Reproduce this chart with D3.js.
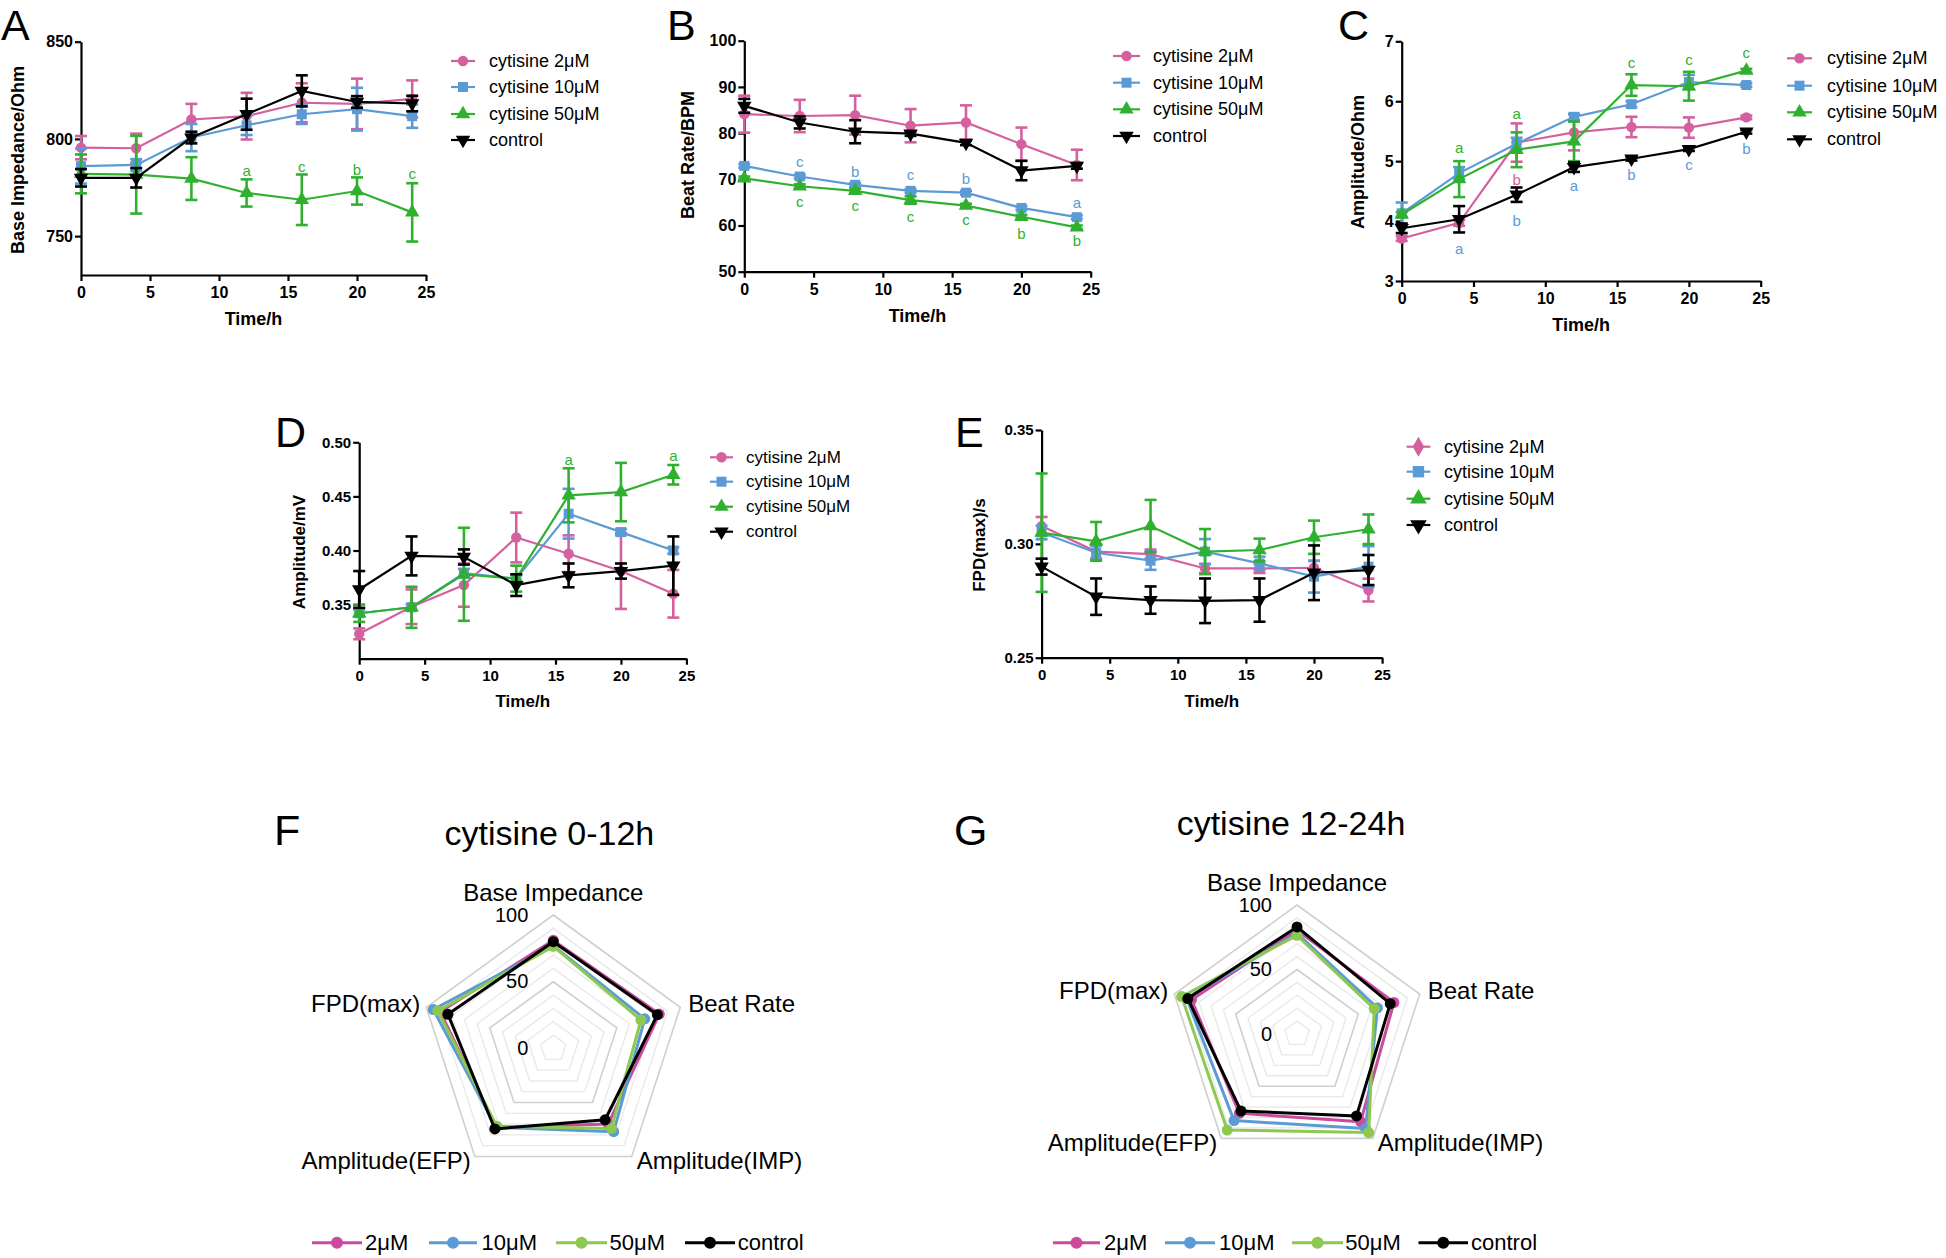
<!DOCTYPE html>
<html><head><meta charset="utf-8">
<script src="https://cdn.jsdelivr.net/npm/d3@7"></script>
<style>
body{margin:0;background:#fff}
svg{display:block}
text{font-family:"Liberation Sans",Arial,Helvetica,sans-serif;fill:#000}
</style>
</head><body>
<svg id="chart" width="1946" height="1258"></svg>
<script>
// ---------------- DATA ----------------
const times = [0, 4, 8, 12, 16, 20, 24];
const seriesNames = ["cytisine 2μM", "cytisine 10μM", "cytisine 50μM", "control"];
const xTicks = [0, 5, 10, 15, 20, 25];

// A: Base Impedance / Ohm
const impedance2 = [795.5, 795.2, 810.0, 811.7, 818.6, 818.0, 820.6];
const impedance2Err = [6, 7.5, 8, 12, 10, 13, 9.5];
const impedance10 = [786.0, 786.6, 800.7, 807.0, 812.7, 815.3, 811.7];
const impedance10Err = [9, 3, 7, 5, 5, 11, 6];
const impedance50 = [782.0, 781.6, 779.6, 772.2, 768.7, 773.2, 762.2];
const impedance50Err = [10, 20, 11, 7, 13, 7, 15];
const impedanceCtrl = [780.0, 780.0, 800.7, 812.7, 824.7, 819.0, 818.2];
const impedanceCtrlErr = [4.5, 5, 3, 8, 8, 3, 4];
const impedanceTicks = [750, 800, 850];
const impedanceAnnot = [
  {s: 2, t: 12, v: 783.8, txt: "a"}, {s: 2, t: 16, v: 785.6, txt: "c"},
  {s: 2, t: 20, v: 784.4, txt: "b"}, {s: 2, t: 24, v: 782.1, txt: "c"}];

// B: Beat Rate / BPM
const beat2 = [84.1, 83.7, 83.9, 81.6, 82.3, 77.6, 73.1];
const beat2Err = [4, 3.5, 4.2, 3.6, 3.7, 3.6, 3.3];
const beat10 = [72.9, 70.6, 68.8, 67.5, 67.1, 63.8, 61.8];
const beat10Err = [0.4, 0.4, 0.4, 0.4, 0.4, 0.4, 0.4];
const beat50 = [70.2, 68.5, 67.5, 65.5, 64.3, 61.9, 59.6];
const beat50Err = [0.4, 0.4, 0.4, 0.8, 0.4, 0.4, 0.4];
const beatCtrl = [85.9, 82.3, 80.3, 79.9, 77.9, 71.9, 72.9];
const beatCtrlErr = [1.5, 1.3, 2.5, 0.5, 0.5, 2.1, 0.6];
const beatTicks = [50, 60, 70, 80, 90, 100];
const beatAnnot = [
  {s: 1, t: 4, v: 73.8, txt: "c"}, {s: 1, t: 8, v: 71.6, txt: "b"}, {s: 1, t: 12, v: 71.1, txt: "c"},
  {s: 1, t: 16, v: 70.2, txt: "b"}, {s: 1, t: 24, v: 64.9, txt: "a"},
  {s: 2, t: 4, v: 65.3, txt: "c"}, {s: 2, t: 8, v: 64.4, txt: "c"}, {s: 2, t: 12, v: 62.0, txt: "c"},
  {s: 2, t: 16, v: 61.2, txt: "c"}, {s: 2, t: 20, v: 58.3, txt: "b"}, {s: 2, t: 24, v: 56.7, txt: "b"}];

// C: Amplitude / Ohm
const ampImp2 = [3.71, 3.97, 5.31, 5.48, 5.57, 5.56, 5.73];
const ampImp2Err = [0.04, 0.05, 0.32, 0.30, 0.17, 0.17, 0.03];
const ampImp10 = [4.13, 4.80, 5.29, 5.74, 5.95, 6.32, 6.27];
const ampImp10Err = [0.18, 0.10, 0.10, 0.05, 0.05, 0.12, 0.03];
const ampImp50 = [4.11, 4.70, 5.19, 5.33, 6.27, 6.25, 6.51];
const ampImp50Err = [0.04, 0.30, 0.29, 0.33, 0.18, 0.24, 0.03];
const ampImpCtrl = [3.88, 4.03, 4.44, 4.90, 5.04, 5.20, 5.49];
const ampImpCtrlErr = [0.08, 0.22, 0.12, 0.08, 0.03, 0.03, 0.03];
const ampImpTicks = [3, 4, 5, 6, 7];
const ampImpAnnot = [
  {s: 2, t: 4, v: 5.23, txt: "a"}, {s: 1, t: 4, v: 3.55, txt: "a"},
  {s: 2, t: 8, v: 5.80, txt: "a"}, {s: 0, t: 8, v: 4.69, txt: "b"}, {s: 1, t: 8, v: 4.01, txt: "b"},
  {s: 1, t: 12, v: 4.59, txt: "a"},
  {s: 2, t: 16, v: 6.64, txt: "c"}, {s: 1, t: 16, v: 4.78, txt: "b"},
  {s: 2, t: 20, v: 6.70, txt: "c"}, {s: 1, t: 20, v: 4.95, txt: "c"},
  {s: 2, t: 24, v: 6.81, txt: "c"}, {s: 1, t: 24, v: 5.21, txt: "b"}];

// D: Amplitude / mV
const ampEfp2 = [0.323, 0.348, 0.368, 0.412, 0.397, 0.381, 0.360];
const ampEfp2Err = [0.005, 0.016, 0.020, 0.023, 0.017, 0.035, 0.022];
const ampEfp10 = [0.342, 0.3475, 0.379, 0.374, 0.434, 0.417, 0.400];
const ampEfp10Err = [0.003, 0.003, 0.004, 0.003, 0.023, 0.003, 0.003];
const ampEfp50 = [0.342, 0.3475, 0.378, 0.374, 0.451, 0.454, 0.470];
const ampEfp50Err = [0.008, 0.019, 0.043, 0.012, 0.025, 0.027, 0.009];
const ampEfpCtrl = [0.364, 0.395, 0.394, 0.368, 0.377, 0.381, 0.386];
const ampEfpCtrlErr = [0.017, 0.018, 0.007, 0.010, 0.011, 0.007, 0.027];
const ampEfpTicks = [0.35, 0.40, 0.45, 0.50];
const ampEfpAnnot = [{s: 2, t: 16, v: 0.4843, txt: "a"}, {s: 2, t: 24, v: 0.4874, txt: "a"}];

// E: FPD(max) / s
const fpd2 = [0.3078, 0.2966, 0.2955, 0.2892, 0.2892, 0.2895, 0.2797];
const fpd2Err = [0.004, 0.003, 0.002, 0.002, 0.002, 0.003, 0.005];
const fpd10 = [0.3050, 0.2961, 0.2926, 0.2966, 0.2914, 0.2856, 0.2900];
const fpd10Err = [0.003, 0.003, 0.004, 0.0055, 0.003, 0.007, 0.009];
const fpd50 = [0.3049, 0.3011, 0.3078, 0.2966, 0.2973, 0.3029, 0.3064];
const fpd50Err = [0.026, 0.0085, 0.0115, 0.0099, 0.005, 0.0073, 0.0065];
const fpdCtrl = [0.2900, 0.2768, 0.2753, 0.2750, 0.2753, 0.2873, 0.2885];
const fpdCtrlErr = [0.0035, 0.008, 0.006, 0.0098, 0.0095, 0.012, 0.0066];
const fpdTicks = [0.25, 0.30, 0.35];

// F / G: radar
const radarAxes = ["Base Impedance", "Beat Rate", "Amplitude(IMP)", "Amplitude(EFP)", "FPD(max)"];
const radarNames = ["2μM", "10μM", "50μM", "control"];
const radarTicks = [0, 50, 100];
const radarEarly2 = [81, 83.5, 70, 73, 89];
const radarEarly10 = [77, 72, 77, 73, 94.5];
const radarEarly50 = [76.5, 69, 74, 72, 91];
const radarEarlyCtrl = [80, 82, 66, 74.5, 83];
const radarLate2 = [80.5, 79, 84, 76, 86];
const radarLate10 = [78, 65.5, 90.5, 83, 90];
const radarLate50 = [76.5, 63, 94.5, 92, 94];
const radarLateCtrl = [83, 76, 78.5, 73.8, 89];

// ---------------- STYLE ----------------
const lineColors = ["#d4609f", "#5b9bd5", "#2fb12f", "#000000"];
const radarColors = ["#cc4a9c", "#5b9bd5", "#8dc850", "#000000"];
const symbolTypes = [d3.symbolCircle, d3.symbolSquare, d3.symbolTriangle, d3.symbolTriangle];
const symbolSizes = [85, 100, 90, 90];
const symbolRot = [0, 0, 0, 180];

const svg = d3.select("#chart");
svg.append("rect").attr("width", 1946).attr("height", 1258).attr("fill", "#fff");

function panelLetter(txt, x, y) {
  svg.append("text").attr("x", x).attr("y", y).attr("font-size", 43).text(txt);
}

function linePanel(c) {
  const g = svg.append("g");
  const x = d3.scaleLinear().domain([0, 25]).range([c.x0, c.x1]);
  const y = d3.scaleLinear().domain(c.yDomain).range([c.yB, c.yT]);
  const tf = c.tickFont || 16;
  const ya = g.append("g").attr("transform", `translate(${c.x0},0)`)
    .call(d3.axisLeft(y).tickValues(c.yTicks).tickFormat(c.fmt).tickSize(6).tickSizeOuter(0).tickPadding(2));
  const xa = g.append("g").attr("transform", `translate(0,${c.yB})`)
    .call(d3.axisBottom(x).tickValues(xTicks).tickSize(6).tickSizeOuter(0).tickPadding(6));
  [ya, xa].forEach(a => {
    a.select(".domain").attr("stroke", "#000").attr("stroke-width", 2.2);
    a.selectAll(".tick line").attr("stroke", "#000").attr("stroke-width", 2.2);
    a.selectAll(".tick text").attr("font-size", tf).attr("font-weight", "bold")
      .attr("font-family", '"Liberation Sans",Arial,sans-serif').attr("fill", "#000");
  });
  const titleFont = c.titleFont || 18;
  g.append("text").attr("x", (c.x0 + c.x1) / 2).attr("y", c.yB + c.xTitleDy)
    .attr("text-anchor", "middle").attr("font-size", titleFont).attr("font-weight", "bold").text("Time/h");
  g.append("text").attr("transform", `translate(${c.ytX},${c.ytY}) rotate(-90)`)
    .attr("text-anchor", "middle").attr("dominant-baseline", "central")
    .attr("font-size", titleFont).attr("font-weight", "bold").text(c.yTitle);

  const line = d3.line().x((d, i) => x(times[i])).y(d => y(d));
  c.series.forEach((s, k) => {
    const col = lineColors[k];
    const sg = g.append("g");
    sg.append("path").attr("d", line(s.v)).attr("fill", "none").attr("stroke", col).attr("stroke-width", 2.2);
    s.v.forEach((v, i) => {
      const e = s.e[i], xx = x(times[i]);
      const y1 = y(v - e), y2 = y(v + e);
      sg.append("line").attr("x1", xx).attr("x2", xx).attr("y1", y1).attr("y2", y2)
        .attr("stroke", col).attr("stroke-width", 2.6);
      [y1, y2].forEach(yy => sg.append("line").attr("x1", xx - 6).attr("x2", xx + 6)
        .attr("y1", yy).attr("y2", yy).attr("stroke", col).attr("stroke-width", 2.6));
    });
    sg.selectAll("path.m").data(s.v).enter().append("path").attr("class", "m")
      .attr("d", d3.symbol().type(symbolTypes[k]).size(symbolSizes[k]))
      .attr("transform", (d, i) => `translate(${x(times[i])},${y(d)}) rotate(${symbolRot[k]})`)
      .attr("fill", col);
  });
  (c.annot || []).forEach(a => {
    g.append("text").attr("x", x(a.t)).attr("y", y(a.v)).attr("text-anchor", "middle")
      .attr("dominant-baseline", "central").attr("font-size", 15).style("fill", lineColors[a.s]).text(a.txt);
  });
  // legend
  const L = c.legend;
  seriesNames.forEach((n, k) => {
    const ry = L.rows[k];
    g.append("line").attr("x1", L.l0).attr("x2", L.l1).attr("y1", ry).attr("y2", ry)
      .attr("stroke", lineColors[k]).attr("stroke-width", 2.2);
    const type = (L.diamond && k === 0) ? d3.symbolDiamond : symbolTypes[k];
    g.append("path").attr("d", d3.symbol().type(type).size(symbolSizes[k] + (L.big ? 30 : 0)))
      .attr("transform", `translate(${(L.l0 + L.l1) / 2},${ry}) rotate(${symbolRot[k]})`)
      .attr("fill", lineColors[k]);
    g.append("text").attr("x", L.tx).attr("y", ry).attr("dominant-baseline", "central")
      .attr("font-size", L.font || 18).text(n);
  });
}

// Panel A
panelLetter("A", 1, 40);
linePanel({x0: 81, x1: 426, yB: 275, yT: 41.7, yDomain: [730, 850], yTicks: impedanceTicks, fmt: d3.format("d"),
  yTitle: "Base Impedance/Ohm", ytX: 18, ytY: 160, xTitleDy: 50,
  series: [{v: impedance2, e: impedance2Err}, {v: impedance10, e: impedance10Err},
           {v: impedance50, e: impedance50Err}, {v: impedanceCtrl, e: impedanceCtrlErr}],
  annot: impedanceAnnot,
  legend: {l0: 451, l1: 475, tx: 489, rows: [61, 87, 114, 140]}});

// Panel B
panelLetter("B", 667, 40);
linePanel({x0: 744.3, x1: 1090.7, yB: 271.7, yT: 40.7, yDomain: [50, 100], yTicks: beatTicks, fmt: d3.format("d"),
  yTitle: "Beat Rate/BPM", ytX: 688, ytY: 155, xTitleDy: 50,
  series: [{v: beat2, e: beat2Err}, {v: beat10, e: beat10Err},
           {v: beat50, e: beat50Err}, {v: beatCtrl, e: beatCtrlErr}],
  annot: beatAnnot,
  legend: {l0: 1113, l1: 1140, tx: 1153, rows: [56, 82.7, 109.3, 136]}});

// Panel C
panelLetter("C", 1338, 40);
linePanel({x0: 1401.7, x1: 1760.7, yB: 281, yT: 41.3, yDomain: [3, 7], yTicks: ampImpTicks, fmt: d3.format("d"),
  yTitle: "Amplitude/Ohm", ytX: 1358, ytY: 162, xTitleDy: 50,
  series: [{v: ampImp2, e: ampImp2Err}, {v: ampImp10, e: ampImp10Err},
           {v: ampImp50, e: ampImp50Err}, {v: ampImpCtrl, e: ampImpCtrlErr}],
  annot: ampImpAnnot,
  legend: {l0: 1787, l1: 1812, tx: 1827, rows: [58.3, 85.7, 112.3, 139.3]}});

// Panel D
panelLetter("D", 275, 447);
linePanel({x0: 359.2, x1: 686.4, yB: 658.7, yT: 442.3, yDomain: [0.30, 0.50], yTicks: ampEfpTicks, fmt: d3.format(".2f"),
  yTitle: "Amplitude/mV", ytX: 299, ytY: 552, xTitleDy: 48, titleFont: 17, tickFont: 15,
  series: [{v: ampEfp2, e: ampEfp2Err}, {v: ampEfp10, e: ampEfp10Err},
           {v: ampEfp50, e: ampEfp50Err}, {v: ampEfpCtrl, e: ampEfpCtrlErr}],
  annot: ampEfpAnnot,
  legend: {l0: 710, l1: 733, tx: 746, font: 17, rows: [457.3, 481.7, 506.7, 531.7]}});

// Panel E
panelLetter("E", 955, 447);
linePanel({x0: 1041.6, x1: 1382.1, yB: 657.7, yT: 430, yDomain: [0.25, 0.35], yTicks: fpdTicks, fmt: d3.format(".2f"),
  yTitle: "FPD(max)/s", ytX: 979.5, ytY: 545, xTitleDy: 49, titleFont: 17, tickFont: 15,
  series: [{v: fpd2, e: fpd2Err}, {v: fpd10, e: fpd10Err},
           {v: fpd50, e: fpd50Err}, {v: fpdCtrl, e: fpdCtrlErr}],
  legend: {l0: 1406.6, l1: 1430.3, tx: 1444, diamond: true, big: true, rows: [446.7, 471.7, 498.7, 525]}});

// ---------------- RADAR ----------------
function radarPanel(c) {
  const g = svg.append("g");
  const n = radarAxes.length;
  const r = d3.scaleLinear().domain([0, 100]).range([0, c.R]);
  const ang = i => -Math.PI / 2 + i * 2 * Math.PI / n;
  const pt = (i, v) => [c.cx + r(v) * Math.cos(ang(i)), c.cy + r(v) * Math.sin(ang(i))];
  d3.range(10, 101, 10).forEach(lv => {
    const pts = radarAxes.map((a, i) => pt(i, lv));
    const major = (lv === 50 || lv === 100);
    g.append("path").attr("d", "M" + pts.join("L") + "Z").attr("fill", "none")
      .attr("stroke", major ? "#cfcfcf" : "#e8e8e8").attr("stroke-width", major ? 1.6 : 1.3);
  });
  g.append("text").attr("x", c.titleX).attr("y", c.titleY).attr("text-anchor", "middle")
    .attr("font-size", 34).text(c.title);
  radarTicks.forEach(t => {
    g.append("text").attr("x", c.cx - 25).attr("y", c.cy - r(t) + 6.5).attr("text-anchor", "end")
      .attr("font-size", 20).text(t);
  });
  const anchors = ["middle", "start", "start", "end", "end"];
  const offs = [[0, -14], [8, 5], [5, 12.5], [-4, 12.5], [-6, 5]];
  radarAxes.forEach((a, i) => {
    const p = pt(i, 100);
    g.append("text").attr("x", p[0] + offs[i][0]).attr("y", p[1] + offs[i][1])
      .attr("text-anchor", anchors[i]).attr("font-size", 24).text(a);
  });
  c.series.forEach((vals, k) => {
    const pts = vals.map((v, i) => pt(i, v));
    g.append("path").attr("d", "M" + pts.join("L") + "Z").attr("fill", "none")
      .attr("stroke", radarColors[k]).attr("stroke-width", 3).attr("stroke-linejoin", "round");
    pts.forEach(p => g.append("circle").attr("cx", p[0]).attr("cy", p[1]).attr("r", 5.5).attr("fill", radarColors[k]));
  });
  radarNames.forEach((nm, k) => {
    const it = c.legend[k];
    g.append("line").attr("x1", it[0]).attr("x2", it[1]).attr("y1", c.legY).attr("y2", c.legY)
      .attr("stroke", radarColors[k]).attr("stroke-width", 3);
    g.append("circle").attr("cx", (it[0] + it[1]) / 2).attr("cy", c.legY).attr("r", 6).attr("fill", radarColors[k]);
    g.append("text").attr("x", it[2]).attr("y", c.legY).attr("dominant-baseline", "central")
      .attr("font-size", 22).text(nm);
  });
}

panelLetter("F", 274, 845);
radarPanel({cx: 553.3, cy: 1048.5, R: 133.5, title: "cytisine 0-12h", titleX: 549.4, titleY: 845,
  series: [radarEarly2, radarEarly10, radarEarly50, radarEarlyCtrl],
  legY: 1242.7,
  legend: [[312, 362, 365], [429, 477, 481.6], [556, 607, 609.5], [685, 735, 737.7]]});

panelLetter("G", 954, 845);
radarPanel({cx: 1297, cy: 1034, R: 129, title: "cytisine 12-24h", titleX: 1291, titleY: 835,
  series: [radarLate2, radarLate10, radarLate50, radarLateCtrl],
  legY: 1242.7,
  legend: [[1053, 1100, 1104], [1165, 1215, 1219], [1292, 1343, 1345.3], [1418.5, 1468, 1471]]});
</script>
</body></html>
